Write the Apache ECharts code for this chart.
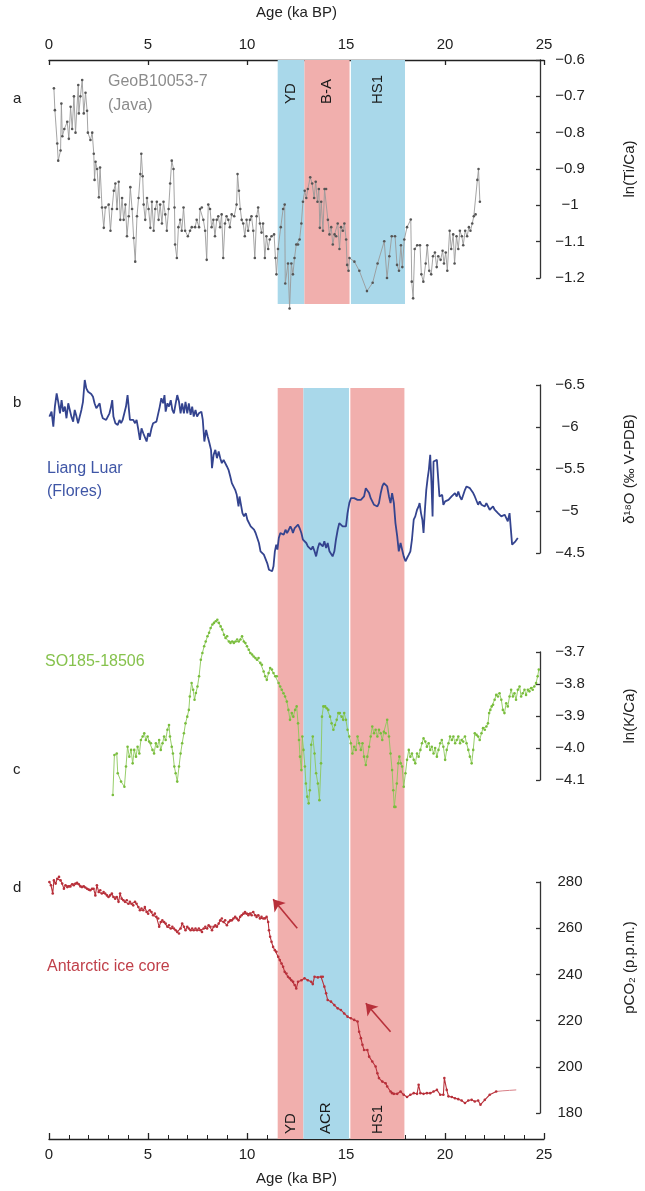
<!DOCTYPE html>
<html>
<head>
<meta charset="utf-8">
<script src="https://cdn.jsdelivr.net/npm/echarts@6/dist/echarts.min.js"></script>
<style>
  html, body { margin: 0; padding: 0; background: #fff; }
  #chart { width: 645px; height: 1191px; }
</style>
</head>
<body>
<div id="chart"></div>
<script>
// ---- Data: [age (ka BP), value] ----
const javaTiCa = [[0.25,-0.678],[0.30,-0.738],[0.42,-0.83],[0.47,-0.877],[0.59,-0.849],[0.63,-0.72],[0.68,-0.81],[0.78,-0.79],[0.93,-0.77],[1.01,-0.817],[1.10,-0.729],[1.18,-0.79],[1.27,-0.70],[1.35,-0.80],[1.49,-0.669],[1.52,-0.747],[1.60,-0.70],[1.69,-0.655],[1.77,-0.747],[1.86,-0.69],[1.94,-0.74],[1.98,-0.80],[2.11,-0.82],[2.20,-0.80],[2.28,-0.858],[2.32,-0.93],[2.37,-0.88],[2.45,-0.90],[2.54,-0.978],[2.60,-0.896],[2.70,-1.006],[2.79,-1.062],[2.87,-1.006],[3.04,-0.998],[3.13,-1.07],[3.21,-1.01],[3.30,-0.96],[3.38,-0.94],[3.46,-1.01],[3.55,-0.935],[3.63,-1.04],[3.72,-0.98],[3.80,-1.04],[3.89,-0.998],[3.97,-1.085],[4.06,-1.03],[4.14,-0.95],[4.23,-1.01],[4.31,-1.09],[4.39,-1.155],[4.48,-1.03],[4.56,-0.98],[4.65,-0.914],[4.70,-0.858],[4.77,-0.92],[4.82,-0.998],[4.90,-1.04],[4.99,-0.98],[5.07,-1.01],[5.16,-1.062],[5.24,-0.99],[5.33,-1.07],[5.41,-1.01],[5.49,-0.99],[5.58,-1.04],[5.66,-0.998],[5.75,-1.05],[5.83,-0.99],[5.92,-1.025],[6.00,-1.07],[6.09,-1.01],[6.17,-0.94],[6.25,-0.877],[6.34,-0.90],[6.39,-1.006],[6.42,-1.108],[6.51,-1.145],[6.59,-1.06],[6.68,-1.04],[6.76,-1.07],[6.85,-1.006],[6.93,-1.07],[7.07,-1.085],[7.18,-1.07],[7.27,-1.06],[7.44,-1.06],[7.52,-1.04],[7.64,-1.06],[7.69,-1.01],[7.78,-1.006],[7.86,-1.04],[7.95,-1.07],[8.03,-1.15],[8.11,-0.998],[8.20,-1.01],[8.28,-1.06],[8.37,-1.04],[8.45,-1.085],[8.54,-1.04],[8.62,-1.03],[8.71,-1.06],[8.79,-1.025],[8.87,-1.145],[8.96,-1.05],[9.04,-1.03],[9.13,-1.04],[9.21,-1.06],[9.30,-1.025],[9.43,-1.03],[9.55,-0.998],[9.60,-0.914],[9.67,-0.96],[9.74,-1.01],[9.81,-1.04],[9.89,-1.05],[9.97,-1.085],[10.06,-1.04],[10.14,-1.07],[10.23,-1.04],[10.31,-1.03],[10.40,-1.07],[10.48,-1.145],[10.57,-1.03],[10.65,-1.006],[10.74,-1.05],[10.82,-1.075],[10.90,-1.05],[10.99,-1.145],[11.07,-1.085],[11.16,-1.12],[11.24,-1.094],[11.33,-1.085],[11.46,-1.08],[11.53,-1.145],[11.58,-1.19],[11.66,-1.12],[11.80,-1.06],[11.92,-1.01],[12.00,-0.998],[12.03,-1.215],[12.17,-1.16],[12.25,-1.284],[12.34,-1.16],[12.42,-1.19],[12.50,-1.145],[12.59,-1.108],[12.68,-1.108],[12.76,-1.094],[12.85,-1.05],[12.93,-0.99],[13.02,-0.96],[13.10,-0.98],[13.18,-0.955],[13.30,-0.923],[13.40,-0.94],[13.50,-0.98],[13.58,-0.935],[13.67,-0.99],[13.74,-0.955],[13.79,-1.062],[13.86,-0.99],[13.95,-1.07],[14.03,-0.955],[14.11,-0.955],[14.20,-1.04],[14.28,-1.08],[14.37,-1.06],[14.45,-1.108],[14.54,-1.08],[14.62,-1.085],[14.70,-1.05],[14.79,-1.12],[14.87,-1.06],[14.96,-1.07],[15.04,-1.05],[15.13,-1.094],[15.18,-1.164],[15.25,-1.18],[15.30,-1.145],[15.55,-1.155],[15.80,-1.18],[16.19,-1.236],[16.48,-1.213],[16.73,-1.16],[17.07,-1.099],[17.21,-1.20],[17.33,-1.14],[17.45,-1.085],[17.62,-1.085],[17.72,-1.164],[17.82,-1.18],[17.92,-1.11],[17.99,-1.17],[18.09,-1.094],[18.23,-1.06],[18.42,-1.039],[18.47,-1.21],[18.54,-1.256],[18.62,-1.12],[18.75,-1.11],[18.89,-1.11],[18.96,-1.19],[19.06,-1.21],[19.18,-1.16],[19.26,-1.11],[19.36,-1.18],[19.46,-1.19],[19.55,-1.14],[19.65,-1.13],[19.74,-1.17],[19.82,-1.14],[19.94,-1.15],[20.04,-1.125],[20.11,-1.16],[20.20,-1.13],[20.28,-1.18],[20.40,-1.07],[20.48,-1.12],[20.58,-1.08],[20.65,-1.16],[20.75,-1.085],[20.84,-1.12],[20.92,-1.07],[21.02,-1.085],[21.09,-1.11],[21.19,-1.07],[21.29,-1.085],[21.38,-1.06],[21.46,-1.07],[21.55,-1.05],[21.63,-1.03],[21.72,-1.025],[21.81,-0.93],[21.87,-0.90],[21.94,-0.99]];

const floresD18O = [[0.02,-6.124],[0.13,-6.183],[0.22,-6.005],[0.30,-6.243],[0.39,-6.40],[0.47,-6.30],[0.56,-6.163],[0.64,-6.32],[0.72,-6.183],[0.81,-6.243],[0.89,-6.104],[0.98,-6.282],[1.06,-6.203],[1.14,-6.124],[1.23,-6.064],[1.31,-6.203],[1.40,-6.124],[1.48,-6.045],[1.57,-6.025],[1.65,-6.203],[1.73,-6.30],[1.82,-6.56],[1.90,-6.46],[1.99,-6.42],[2.07,-6.40],[2.15,-6.393],[2.24,-6.36],[2.32,-6.282],[2.41,-6.223],[2.49,-6.223],[2.58,-6.282],[2.66,-6.163],[2.74,-6.104],[2.83,-6.124],[2.91,-6.084],[3.00,-6.064],[3.08,-6.163],[3.16,-6.243],[3.22,-6.32],[3.28,-6.124],[3.38,-6.045],[3.50,-6.025],[3.59,-6.084],[3.67,-6.045],[3.75,-6.084],[3.84,-6.104],[3.92,-6.243],[4.00,-6.38],[4.06,-6.38],[4.12,-6.084],[4.21,-6.064],[4.29,-6.084],[4.38,-6.045],[4.46,-6.084],[4.55,-5.965],[4.63,-5.846],[4.71,-5.985],[4.80,-5.926],[4.88,-5.945],[4.97,-5.827],[5.05,-5.926],[5.13,-5.886],[5.22,-5.985],[5.30,-6.045],[5.39,-6.045],[5.47,-6.064],[5.56,-6.084],[5.64,-6.243],[5.72,-6.342],[5.81,-6.282],[5.88,-6.38],[5.94,-6.183],[6.03,-6.282],[6.11,-6.243],[6.20,-6.32],[6.28,-6.203],[6.36,-6.163],[6.45,-6.282],[6.53,-6.38],[6.62,-6.30],[6.70,-6.163],[6.78,-6.282],[6.87,-6.163],[6.95,-6.30],[7.04,-6.163],[7.12,-6.282],[7.21,-6.144],[7.29,-6.243],[7.37,-6.124],[7.46,-6.203],[7.54,-6.124],[7.63,-6.163],[7.76,-6.183],[7.83,-6.084],[7.91,-5.827],[8.00,-5.965],[8.08,-5.886],[8.17,-5.807],[8.25,-5.728],[8.30,-5.51],[8.38,-5.668],[8.47,-5.728],[8.55,-5.629],[8.64,-5.708],[8.72,-5.629],[8.80,-5.57],[8.89,-5.609],[8.97,-5.589],[9.06,-5.53],[9.14,-5.49],[9.23,-5.41],[9.31,-5.332],[9.39,-5.312],[9.48,-5.252],[9.56,-5.193],[9.65,-5.054],[9.70,-5.173],[9.76,-5.094],[9.85,-4.975],[9.93,-4.936],[10.02,-4.975],[10.10,-4.896],[10.19,-4.916],[10.27,-4.817],[10.35,-4.817],[10.44,-4.777],[10.52,-4.738],[10.61,-4.738],[10.69,-4.619],[10.77,-4.52],[10.86,-4.50],[10.94,-4.48],[11.03,-4.46],[11.11,-4.38],[11.20,-4.30],[11.28,-4.283],[11.36,-4.283],[11.43,-4.342],[11.50,-4.52],[11.57,-4.60],[11.63,-4.54],[11.70,-4.678],[11.78,-4.738],[11.87,-4.757],[11.95,-4.718],[12.04,-4.777],[12.12,-4.738],[12.21,-4.777],[12.29,-4.817],[12.37,-4.777],[12.42,-4.738],[12.51,-4.797],[12.59,-4.777],[12.68,-4.837],[12.76,-4.797],[12.85,-4.738],[12.93,-4.658],[13.01,-4.639],[13.10,-4.619],[13.18,-4.579],[13.27,-4.599],[13.35,-4.54],[13.43,-4.579],[13.52,-4.52],[13.60,-4.46],[13.69,-4.56],[13.77,-4.619],[13.85,-4.599],[13.94,-4.579],[14.02,-4.639],[14.11,-4.56],[14.19,-4.619],[14.28,-4.52],[14.36,-4.50],[14.44,-4.46],[14.53,-4.52],[14.61,-4.658],[14.70,-4.777],[14.78,-4.856],[14.86,-4.856],[14.95,-4.817],[15.03,-4.797],[15.12,-4.817],[15.20,-4.975],[15.29,-5.094],[15.37,-5.153],[15.45,-5.173],[15.54,-5.153],[15.62,-5.153],[15.71,-5.133],[15.79,-5.153],[15.88,-5.133],[15.96,-5.114],[16.04,-5.173],[16.13,-5.272],[16.21,-5.292],[16.30,-5.213],[16.38,-5.153],[16.46,-5.133],[16.55,-5.074],[16.63,-5.054],[16.72,-5.054],[16.80,-5.094],[16.89,-5.213],[16.97,-5.292],[17.05,-5.332],[17.14,-5.332],[17.22,-5.292],[17.31,-5.173],[17.39,-5.094],[17.47,-5.213],[17.56,-5.094],[17.64,-4.856],[17.73,-4.698],[17.81,-4.52],[17.90,-4.619],[17.98,-4.60],[18.06,-4.46],[18.15,-4.401],[18.23,-4.44],[18.32,-4.48],[18.40,-4.52],[18.48,-4.658],[18.57,-4.896],[18.65,-4.936],[18.74,-5.015],[18.82,-5.054],[18.87,-5.094],[18.94,-4.975],[19.01,-4.896],[19.07,-4.738],[19.14,-5.015],[19.21,-5.252],[19.28,-5.391],[19.34,-5.49],[19.41,-5.668],[19.48,-5.292],[19.53,-4.936],[19.58,-5.589],[19.66,-5.609],[19.75,-5.609],[19.83,-5.609],[19.88,-5.173],[19.95,-5.153],[20.02,-5.193],[20.08,-5.074],[20.17,-5.114],[20.25,-5.094],[20.34,-5.133],[20.42,-5.153],[20.50,-5.173],[20.59,-5.193],[20.67,-5.213],[20.76,-5.173],[20.84,-5.233],[20.92,-5.173],[21.01,-5.133],[21.09,-5.153],[21.18,-5.252],[21.26,-5.292],[21.34,-5.312],[21.43,-5.272],[21.51,-5.272],[21.60,-5.213],[21.68,-5.173],[21.77,-5.153],[21.85,-5.074],[21.93,-5.114],[22.02,-5.074],[22.10,-5.094],[22.19,-5.054],[22.27,-5.094],[22.36,-5.074],[22.44,-5.015],[22.52,-5.034],[22.61,-5.054],[22.69,-5.015],[22.78,-4.995],[22.86,-4.975],[22.94,-4.956],[23.03,-4.936],[23.11,-4.936],[23.20,-4.956],[23.28,-4.936],[23.36,-4.876],[23.45,-4.975],[23.51,-4.975],[23.58,-4.599],[23.67,-4.579],[23.75,-4.639],[23.87,-4.678]];

const so185KCa = [[3.25,-4.147],[3.33,-4.022],[3.45,-4.017],[3.50,-4.079],[3.67,-4.105],[3.84,-4.121],[3.92,-4.058],[4.00,-3.996],[4.09,-4.027],[4.18,-4.006],[4.26,-4.048],[4.34,-4.006],[4.43,-4.027],[4.51,-3.996],[4.60,-4.017],[4.68,-3.975],[4.77,-3.964],[4.85,-3.954],[4.93,-3.975],[5.02,-3.964],[5.10,-3.98],[5.19,-3.985],[5.27,-4.006],[5.35,-4.017],[5.44,-3.985],[5.52,-3.996],[5.61,-3.975],[5.69,-4.006],[5.78,-3.985],[5.86,-3.964],[5.94,-3.975],[6.03,-3.943],[6.11,-3.928],[6.16,-3.964],[6.25,-3.996],[6.31,-4.017],[6.38,-4.058],[6.45,-4.079],[6.53,-4.105],[6.62,-4.058],[6.70,-4.017],[6.78,-3.985],[6.87,-3.954],[6.95,-3.923],[7.04,-3.902],[7.12,-3.881],[7.17,-3.839],[7.26,-3.797],[7.34,-3.818],[7.41,-3.849],[7.48,-3.828],[7.56,-3.808],[7.64,-3.776],[7.73,-3.724],[7.81,-3.703],[7.90,-3.682],[7.98,-3.667],[8.07,-3.651],[8.15,-3.64],[8.23,-3.625],[8.32,-3.614],[8.40,-3.609],[8.49,-3.604],[8.57,-3.599],[8.65,-3.609],[8.74,-3.62],[8.82,-3.63],[8.91,-3.646],[8.99,-3.656],[9.07,-3.651],[9.16,-3.667],[9.24,-3.672],[9.33,-3.667],[9.41,-3.672],[9.50,-3.667],[9.58,-3.661],[9.66,-3.667],[9.75,-3.661],[9.83,-3.651],[9.92,-3.667],[10.00,-3.672],[10.08,-3.682],[10.17,-3.693],[10.25,-3.703],[10.34,-3.708],[10.42,-3.714],[10.51,-3.719],[10.59,-3.724],[10.67,-3.719],[10.76,-3.734],[10.84,-3.74],[10.93,-3.761],[11.01,-3.776],[11.09,-3.787],[11.18,-3.766],[11.26,-3.75],[11.35,-3.755],[11.43,-3.766],[11.52,-3.776],[11.60,-3.776],[11.69,-3.797],[11.77,-3.808],[11.85,-3.818],[11.94,-3.829],[12.02,-3.839],[12.11,-3.855],[12.19,-3.881],[12.27,-3.912],[12.36,-3.891],[12.44,-3.902],[12.53,-3.881],[12.61,-3.87],[12.68,-3.923],[12.73,-3.975],[12.78,-4.027],[12.85,-4.069],[12.90,-3.964],[12.96,-4.006],[13.03,-4.058],[13.08,-4.111],[13.15,-4.152],[13.22,-4.173],[13.28,-4.132],[13.35,-3.99],[13.43,-3.964],[13.52,-4.017],[13.60,-4.079],[13.69,-4.111],[13.77,-4.163],[13.85,-4.048],[13.90,-3.902],[13.97,-3.87],[14.06,-3.87],[14.14,-3.876],[14.22,-3.881],[14.31,-3.902],[14.39,-3.923],[14.48,-3.943],[14.56,-3.928],[14.65,-3.912],[14.73,-3.891],[14.81,-3.891],[14.90,-3.902],[14.98,-3.912],[15.03,-3.891],[15.12,-3.912],[15.20,-3.943],[15.29,-3.964],[15.37,-3.985],[15.45,-4.017],[15.54,-3.996],[15.62,-4.006],[15.71,-3.964],[15.79,-3.985],[15.88,-4.006],[15.96,-3.985],[16.04,-4.027],[16.13,-4.053],[16.21,-4.027],[16.30,-3.996],[16.38,-3.964],[16.46,-3.933],[16.55,-3.954],[16.63,-3.943],[16.72,-3.964],[16.80,-3.943],[16.89,-3.954],[16.97,-3.975],[17.05,-3.949],[17.14,-3.954],[17.22,-3.912],[17.31,-3.964],[17.39,-4.017],[17.47,-4.069],[17.53,-4.132],[17.58,-4.184],[17.64,-4.184],[17.71,-4.111],[17.78,-4.048],[17.84,-4.027],[17.91,-4.048],[17.98,-4.058],[18.06,-4.121],[18.15,-4.079],[18.23,-4.037],[18.32,-4.006],[18.40,-4.027],[18.48,-4.017],[18.57,-4.037],[18.65,-4.048],[18.74,-4.017],[18.82,-4.027],[18.91,-4.006],[18.99,-3.985],[19.07,-3.97],[19.16,-3.98],[19.24,-3.996],[19.33,-3.985],[19.41,-4.006],[19.49,-3.996],[19.58,-4.017],[19.66,-4.0],[19.75,-4.027],[19.83,-4.006],[19.92,-3.985],[20.00,-3.975],[20.08,-3.996],[20.17,-4.037],[20.25,-4.006],[20.34,-3.985],[20.42,-3.964],[20.51,-3.975],[20.59,-3.964],[20.68,-3.985],[20.76,-3.975],[20.84,-3.964],[20.93,-3.985],[21.01,-3.975],[21.09,-3.98],[21.18,-3.964],[21.26,-3.985],[21.35,-4.006],[21.43,-4.027],[21.52,-4.048],[21.60,-4.006],[21.68,-3.954],[21.77,-3.959],[21.85,-3.964],[21.93,-3.975],[22.02,-3.954],[22.10,-3.938],[22.19,-3.943],[22.27,-3.933],[22.35,-3.923],[22.41,-3.891],[22.47,-3.881],[22.54,-3.87],[22.61,-3.865],[22.69,-3.849],[22.77,-3.834],[22.86,-3.839],[22.94,-3.829],[23.03,-3.849],[23.11,-3.881],[23.19,-3.891],[23.28,-3.86],[23.36,-3.87],[23.45,-3.839],[23.53,-3.818],[23.62,-3.839],[23.70,-3.829],[23.78,-3.849],[23.87,-3.818],[23.96,-3.808],[24.04,-3.839],[24.12,-3.829],[24.21,-3.818],[24.29,-3.834],[24.38,-3.818],[24.46,-3.823],[24.55,-3.813],[24.63,-3.818],[24.71,-3.808],[24.80,-3.797],[24.88,-3.776],[24.94,-3.755]];

const antarcticCO2 = [[0.02,280],[0.10,278.6],[0.19,275],[0.25,280.7],[0.34,279.3],[0.42,281.4],[0.51,282.2],[0.59,280.7],[0.67,279.3],[0.76,277.1],[0.84,278.6],[0.93,277.8],[1.01,278.1],[1.09,278.1],[1.18,279],[1.26,278.6],[1.35,279.3],[1.43,279.6],[1.52,279],[1.60,278.1],[1.68,277.8],[1.77,278.1],[1.85,277.6],[1.94,277.1],[2.02,276.7],[2.10,276.4],[2.19,277.1],[2.27,277.1],[2.36,274.2],[2.44,278.6],[2.53,275.7],[2.61,276.4],[2.69,275],[2.78,275.7],[2.86,275],[2.95,274.2],[3.03,273.5],[3.11,274.2],[3.20,275],[3.28,273.5],[3.37,272.8],[3.45,273.5],[3.54,271.4],[3.62,275],[3.70,272.8],[3.79,272.1],[3.87,271.4],[3.96,272.1],[4.04,270.6],[4.12,271.4],[4.21,270.6],[4.29,269.9],[4.38,271.4],[4.46,270.6],[4.55,269.2],[4.63,267.8],[4.71,268.5],[4.80,267.8],[4.88,269.2],[4.97,267],[5.05,266.3],[5.13,267.8],[5.22,267],[5.30,265.6],[5.39,266.3],[5.47,264.9],[5.56,264.2],[5.61,260.6],[5.69,262.7],[5.77,263.4],[5.86,262.7],[5.94,262],[6.03,260.6],[6.11,261.3],[6.20,259.9],[6.28,260.6],[6.36,259.9],[6.45,259.1],[6.53,258.4],[6.62,257.7],[6.70,259.9],[6.78,262],[6.87,260.6],[6.95,259.1],[7.04,260.6],[7.12,259.9],[7.21,259.1],[7.29,259.9],[7.37,259.1],[7.46,259.9],[7.54,259.1],[7.63,259.9],[7.71,259.1],[7.79,258.4],[7.88,259.9],[7.96,260.6],[8.05,259.9],[8.13,261.3],[8.22,260.6],[8.30,259.1],[8.38,260.6],[8.47,261.3],[8.55,260.6],[8.64,262],[8.72,263.4],[8.80,264.2],[8.89,262.7],[8.97,263.4],[9.06,261.3],[9.14,262.7],[9.23,263.4],[9.31,263.4],[9.39,264.2],[9.48,264.9],[9.56,264.2],[9.65,263.4],[9.73,264.9],[9.81,265.6],[9.90,266.3],[9.98,267],[10.07,266.3],[10.15,265.6],[10.24,266.3],[10.32,265.6],[10.40,267],[10.49,265.6],[10.57,264.9],[10.66,265.6],[10.74,264.2],[10.82,264.9],[10.91,264.2],[10.99,264.2],[11.08,264.9],[11.16,262.7],[11.20,259.1],[11.26,256.3],[11.33,254.1],[11.41,251.9],[11.50,250.5],[11.58,249.8],[11.67,247.6],[11.75,246.2],[11.84,244.7],[11.92,243.3],[12.00,241.1],[12.09,240.4],[12.17,239],[12.26,238.3],[12.34,237.5],[12.43,236.8],[12.51,235.4],[12.59,233.9],[12.68,236.8],[12.85,237.5],[13.01,238.3],[13.18,237.5],[13.35,236.8],[13.43,235.8],[13.52,239],[13.69,238.7],[13.85,239],[13.94,239],[14.02,234.7],[14.11,231.8],[14.19,228.9],[14.36,228.2],[14.53,226.7],[14.70,225.3],[14.86,224.6],[15.03,223.1],[15.20,221.7],[15.37,221],[15.54,220.3],[15.71,219.6],[15.79,215.2],[15.88,212.4],[15.96,209.5],[16.04,207.3],[16.21,207.3],[16.30,204.4],[16.46,202.3],[16.63,200.1],[16.72,197.2],[16.80,195.1],[16.97,193.6],[17.14,192.9],[17.22,191.5],[17.39,189.3],[17.47,188.6],[17.56,188.3],[17.73,188.3],[17.90,189.3],[18.06,187.9],[18.23,186.9],[18.40,187.9],[18.57,188.6],[18.74,188.3],[18.82,192.2],[18.91,188.6],[19.07,188.3],[19.24,188.6],[19.41,188.6],[19.58,189.3],[19.75,190],[19.92,187.9],[20.08,187.9],[20.13,195.1],[20.25,190],[20.34,187.2],[20.51,186.9],[20.67,186.4],[20.84,186],[21.01,185.4],[21.18,184.3],[21.35,185.4],[21.52,185.7],[21.68,185],[21.85,185.4],[21.97,183.6],[22.19,185.7],[22.44,187.9],[22.77,189.3]];
const antarcticCO2Tail = [[22.77,189.3],[23.11,189.6],[23.45,189.8],[23.79,190]];

// Climate intervals (ka BP)
const upperBands = [
  { name: 'YD',  from: 11.55, to: 12.9,  tone: 'blue' },
  { name: 'B-A', from: 12.9,  to: 15.18, tone: 'pink' },
  { name: 'HS1', from: 15.25, to: 17.98, tone: 'blue' }
];
const lowerBands = [
  { name: 'YD',  from: 11.55, to: 12.85, tone: 'pink' },
  { name: 'ACR', from: 12.85, to: 15.15, tone: 'blue' },
  { name: 'HS1', from: 15.22, to: 17.95, tone: 'pink' }
];

// Annotation arrows on the CO2 record: [tail, head] in (age, ppm)
const co2Arrows = [
  [[12.64, 260], [11.41, 272.5]],
  [[17.39, 215.2], [16.13, 227.5]]
];

// ---- Styling ----
const FONT = '"Liberation Sans", Arial, Helvetica, sans-serif';
const TONES = { blue: '#a9d8ea', pink: '#f1afad' };
const AXIS_COLOR = '#333';
const L = 49, R = 101;

const minus = v => (v < 0 ? '\u2212' : '') + String(+Math.abs(v).toFixed(2));

function bandSeries(bands, xi, yi, labelY) {
  return {
    type: 'line', xAxisIndex: xi, yAxisIndex: yi, data: [], z: 1, silent: true,
    markArea: {
      silent: true,
      data: bands.map(b => [
        { xAxis: b.from, name: b.name, itemStyle: { color: TONES[b.tone], opacity: 1 } },
        { xAxis: b.to }
      ]),
      label: {
        show: true, position: ['50%', labelY], rotate: 90,
        align: 'left', verticalAlign: 'middle',
        color: '#1a1a1a', fontFamily: FONT, fontSize: 15,
        formatter: p => p.name
      }
    }
  };
}

function rightAxis(gi, min, max, interval, name, opts) {
  return Object.assign({
    gridIndex: gi, type: 'value', position: 'right', min, max, interval,
    axisLine: { show: true, onZero: false, lineStyle: { color: AXIS_COLOR, width: 1.3 } },
    axisTick: { show: true, inside: true, length: 4, lineStyle: { color: AXIS_COLOR, width: 1.3 } },
    splitLine: { show: false },
    axisLabel: { margin: 30, align: 'center', color: '#222', fontFamily: FONT, fontSize: 15, formatter: minus },
    name, nameLocation: 'middle', nameRotate: 90, nameGap: 82,
    nameTextStyle: { color: '#222', fontFamily: FONT, fontSize: 15 }
  }, opts || {});
}

function hiddenX(gi) {
  return { gridIndex: gi, type: 'value', min: 0, max: 25, interval: 5, show: false };
}

const chart = echarts.init(document.getElementById('chart'), null, { renderer: 'canvas' });

const textStyle = (fill, size) => ({ fill, font: `${size}px ${FONT}` });

chart.setOption({
  animation: false,
  backgroundColor: '#fff',
  grid: [
    { left: L, right: R, top: 60,  height: 244 },  // upper interval bands + top age axis
    { left: L, right: R, top: 60,  height: 218 },  // a
    { left: L, right: R, top: 388, height: 755 },  // lower interval bands + bottom age axis
    { left: L, right: R, top: 385, height: 168 },  // b
    { left: L, right: R, top: 652, height: 128 },  // c
    { left: L, right: R, top: 882, height: 231 }   // d
  ],
  xAxis: [
    {
      gridIndex: 0, type: 'value', position: 'top', min: 0, max: 25, interval: 5,
      axisLine: { show: true, onZero: false, lineStyle: { color: '#222', width: 1.3 } },
      axisTick: { show: true, inside: true, length: 5, lineStyle: { color: '#222', width: 1.3 } },
      splitLine: { show: false },
      axisLabel: { margin: 8, color: '#222', fontFamily: FONT, fontSize: 15 },
      name: 'Age (ka BP)', nameLocation: 'middle', nameGap: 40,
      nameTextStyle: { color: '#222', fontFamily: FONT, fontSize: 15 }
    },
    hiddenX(1),
    {
      gridIndex: 2, type: 'value', position: 'bottom', min: 0, max: 25, interval: 5,
      axisLine: { show: true, onZero: false, lineStyle: { color: '#222', width: 1.3 } },
      axisTick: { show: true, inside: true, length: 6, lineStyle: { color: '#222', width: 1.3 } },
      minorTick: { show: true, splitNumber: 5, length: 4, lineStyle: { color: '#222', width: 1 } },
      splitLine: { show: false },
      axisLabel: { margin: 8, color: '#222', fontFamily: FONT, fontSize: 15 },
      name: 'Age (ka BP)', nameLocation: 'middle', nameGap: 32,
      nameTextStyle: { color: '#222', fontFamily: FONT, fontSize: 15 }
    },
    hiddenX(3), hiddenX(4), hiddenX(5)
  ],
  yAxis: [
    { gridIndex: 0, type: 'value', min: 0, max: 1, show: false },
    rightAxis(1, -1.2, -0.6, 0.1, 'ln(Ti/Ca)'),
    { gridIndex: 2, type: 'value', min: 0, max: 1, show: false },
    rightAxis(3, -6.5, -4.5, 0.5, 'δ\u00b9\u2078O (\u2030 V-PDB)', { inverse: true }),
    rightAxis(4, -4.1, -3.7, 0.1, 'ln(K/Ca)', {
      axisLabel: { margin: 30, align: 'center', color: '#222', fontFamily: FONT, fontSize: 15,
        formatter: v => (v < 0 ? '\u2212' : '') + Math.abs(v).toFixed(1) }
    }),
    rightAxis(5, 180, 280, 20, 'pCO\u2082 (p.p.m.)', {
      axisLabel: { margin: 30, align: 'center', color: '#222', fontFamily: FONT, fontSize: 15 },
      nameTextStyle: { color: '#222', fontFamily: FONT, fontSize: 15, padding: [0, 0, 0, 60] }
    })
  ],
  series: [
    bandSeries(upperBands, 0, 0, 44),
    bandSeries(lowerBands, 2, 2, 746),
    {
      name: 'GeoB10053-7', type: 'line', xAxisIndex: 1, yAxisIndex: 1, z: 3, clip: false,
      data: javaTiCa, symbol: 'circle', symbolSize: 2.6, showSymbol: true,
      lineStyle: { color: '#9a9a9a', width: 0.9 },
      itemStyle: { color: '#555' }
    },
    {
      name: 'Liang Luar', type: 'line', xAxisIndex: 3, yAxisIndex: 3, z: 3, clip: false,
      data: floresD18O, showSymbol: false,
      lineStyle: { color: '#34448f', width: 1.8 }
    },
    {
      name: 'SO185-18506', type: 'line', xAxisIndex: 4, yAxisIndex: 4, z: 3, clip: false,
      data: so185KCa, symbol: 'circle', symbolSize: 2.6, showSymbol: true,
      lineStyle: { color: '#8cc85a', width: 0.9 },
      itemStyle: { color: '#79bd3c' }
    },
    {
      name: 'Antarctic ice core', type: 'line', xAxisIndex: 5, yAxisIndex: 5, z: 3, clip: false,
      data: antarcticCO2, symbol: 'circle', symbolSize: 2.6, showSymbol: true,
      lineStyle: { color: '#b8303a', width: 1.1 },
      itemStyle: { color: '#b8303a' },
      markLine: {
        silent: true, symbol: ['none', 'arrow'], symbolSize: 11,
        label: { show: false },
        lineStyle: { color: '#b8303a', width: 1.6, type: 'solid' },
        data: co2Arrows.map(([t, h]) => [{ coord: t }, { coord: h }])
      }
    },
    {
      type: 'line', xAxisIndex: 5, yAxisIndex: 5, z: 3, clip: false,
      data: antarcticCO2Tail, showSymbol: false,
      lineStyle: { color: '#d98088', width: 1 }
    }
  ],
  graphic: [
    { type: 'text', left: 13, top: 91,  style: Object.assign({ text: 'a' }, textStyle('#222', 15)) },
    { type: 'text', left: 13, top: 395, style: Object.assign({ text: 'b' }, textStyle('#222', 15)) },
    { type: 'text', left: 13, top: 762, style: Object.assign({ text: 'c' }, textStyle('#222', 15)) },
    { type: 'text', left: 13, top: 880, style: Object.assign({ text: 'd' }, textStyle('#222', 15)) },
    { type: 'text', left: 108, top: 70, style: Object.assign({ text: 'GeoB10053-7\n(Java)', lineHeight: 24 }, textStyle('#8c8c8c', 16)) },
    { type: 'text', left: 47, top: 457, style: Object.assign({ text: 'Liang Luar\n(Flores)', lineHeight: 23 }, textStyle('#3f56a6', 16)) },
    { type: 'text', left: 45, top: 654, style: Object.assign({ text: 'SO185-18506' }, textStyle('#86c24d', 16)) },
    { type: 'text', left: 47, top: 959, style: Object.assign({ text: 'Antarctic ice core' }, textStyle('#c0404a', 16)) }
  ]
});
</script>
</body>
</html>
